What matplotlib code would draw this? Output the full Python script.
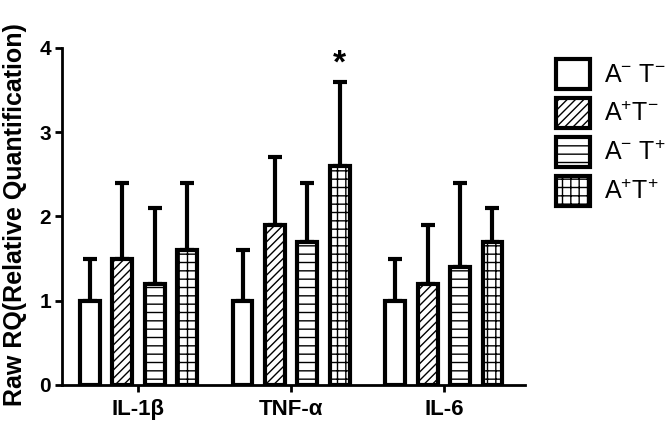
import matplotlib
matplotlib.use("Agg")
import matplotlib.pyplot as plt
import numpy as np
from matplotlib.patches import Patch

plt.rcParams['font.family'] = ['Liberation Sans', 'DejaVu Sans']
plt.rcParams['hatch.linewidth'] = 1.0
plt.rcParams['mathtext.fontset'] = 'custom'
plt.rcParams['mathtext.rm'] = 'Liberation Sans'

categories = ['IL-1β', 'TNF-α', 'IL-6']
series_labels = [r'A$^{-}$ T$^{-}$', r'A$^{+}$T$^{-}$', r'A$^{-}$ T$^{+}$', r'A$^{+}$T$^{+}$']
means = [
    [1.0, 1.0, 1.0],
    [1.5, 1.9, 1.2],
    [1.2, 1.7, 1.4],
    [1.6, 2.6, 1.7],
]
upper_err = [
    [0.5, 0.6, 0.5],
    [0.9, 0.8, 0.7],
    [0.9, 0.7, 1.0],
    [0.8, 1.0, 0.4],
]
hatches = ['', '////', '--', '++']
yticks = [0, 1, 2, 3, 4]

fig = plt.figure(figsize=(6.66, 4.28), dpi=100)
ax = fig.add_axes([0.0931, 0.1005, 0.695, 0.7875])

x = np.arange(len(categories))
pitch = 0.212
width = 0.13
offsets = (np.arange(4) - 1.5) * pitch
for i in range(4):
    ax.bar(x + offsets[i], means[i], width, facecolor='white', edgecolor='black',
           linewidth=3, hatch=hatches[i], zorder=2)
    ax.errorbar(x + offsets[i], means[i], yerr=[np.zeros(3), upper_err[i]], fmt='none',
                ecolor='black', elinewidth=3, capsize=5, capthick=3, zorder=1)

# significance star
ax.text(x[1] + offsets[3], means[3][1] + upper_err[3][1] + 0.02, '*', ha='center', va='bottom',
        fontsize=24, fontweight='bold')

ax.set_xlim(-0.5, 2.53)
ax.set_ylim(0, 4)
ax.set_xticks(x)
ax.set_xticklabels(categories, fontsize=16, fontweight='bold')
ax.set_yticks(yticks)
ax.set_yticklabels([str(t) for t in yticks], fontsize=15, fontweight='bold')
for s in ['top', 'right']:
    ax.spines[s].set_visible(False)
for s in ['left', 'bottom']:
    ax.spines[s].set_linewidth(2)
ax.tick_params(axis='both', width=2, length=5, pad=3)
ax.tick_params(axis='x', pad=5)
ax.set_ylabel('Raw RQ(Relative Quantification)', fontsize=18, fontweight='bold')
ax.yaxis.set_label_coords(-0.075, 0.507)

handles = [Patch(facecolor='white', edgecolor='black', linewidth=3, hatch=h) for h in hatches]
leg = fig.legend(handles, series_labels, loc='upper left', bbox_to_anchor=(0.835, 0.862),
                 frameon=False, fontsize=18, handlelength=1.36, handleheight=1.47,
                 labelspacing=0.36, handletextpad=0.55, borderaxespad=0, borderpad=0)

fig.savefig('out.png', dpi=100)
